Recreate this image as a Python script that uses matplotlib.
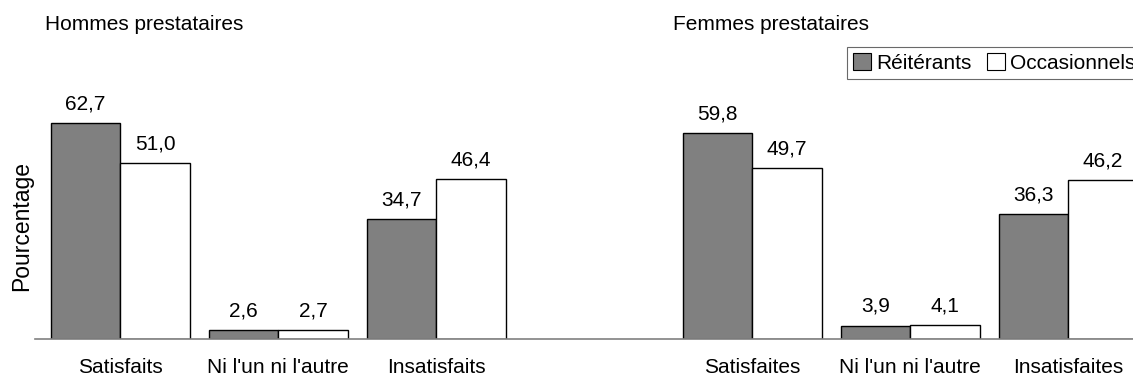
import matplotlib.pyplot as plt
import numpy as np
from matplotlib.patches import Patch

plt.rcParams['font.family'] = ['Liberation Sans', 'DejaVu Sans']

groups = ['Hommes prestataires', 'Femmes prestataires']
categories_h = ['Satisfaits', "Ni l'un ni l'autre", 'Insatisfaits']
categories_f = ['Satisfaites', "Ni l'un ni l'autre", 'Insatisfaites']
reiterants = [62.7, 2.6, 34.7, 59.8, 3.9, 36.3]
occasionnels = [51.0, 2.7, 46.4, 49.7, 4.1, 46.2]
series_names = ['Réitérants', 'Occasionnels']

FS = 15


def fmt(v):
    return f'{v:.1f}'.replace('.', ',')


fig = plt.figure(figsize=(11.33, 3.79), dpi=100)
ax = fig.add_axes([35 / 1133, 40 / 379, 1 - 35 / 1133, 1 - 40 / 379])

pos = np.array([0, 1, 2, 4, 5, 6])
width = 0.44
b1 = ax.bar(pos - width / 2, reiterants, width, color='#808080', edgecolor='black', linewidth=1)
b2 = ax.bar(pos + width / 2, occasionnels, width, color='white', edgecolor='black', linewidth=1)

for bars, vals in ((b1, reiterants), (b2, occasionnels)):
    for bar, v in zip(bars, vals):
        ax.text(bar.get_x() + bar.get_width() / 2, v + 2.8, fmt(v),
                ha='center', va='bottom', fontsize=FS)

ax.set_xlim(-0.54, 6.41)
ax.set_ylim(0, 98.4)
ax.set_xticks(pos)
ax.set_xticklabels(categories_h + categories_f, fontsize=FS)
ax.tick_params(axis='x', length=0, pad=14)
ax.set_yticks([])
for s in ('top', 'right', 'left'):
    ax.spines[s].set_visible(False)
ax.spines['bottom'].set_color('#808080')
ax.spines['bottom'].set_linewidth(1.2)

fig.text(45 / 1133, 1 - 25 / 379, groups[0], fontsize=FS, va='center', ha='left')
fig.text(673 / 1133, 1 - 25 / 379, groups[1], fontsize=FS, va='center', ha='left')
fig.text(22 / 1133, 1 - 226 / 379, 'Pourcentage', rotation=90, fontsize=16.5, va='center', ha='center')

handles = [Patch(facecolor='#808080', edgecolor='black', linewidth=0.8),
           Patch(facecolor='white', edgecolor='black', linewidth=0.8)]
leg = fig.legend(handles, series_names, loc='upper left',
                 bbox_to_anchor=(847 / 1133, 1 - 47 / 379),
                 ncol=2, fontsize=FS, frameon=True, fancybox=False,
                 handlelength=0.85, handleheight=0.85, handletextpad=0.25,
                 columnspacing=0.75, borderpad=0.3, borderaxespad=0)
leg.get_frame().set_edgecolor('#444444')
leg.get_frame().set_linewidth(0.8)

fig.savefig('out.png', dpi=100)
